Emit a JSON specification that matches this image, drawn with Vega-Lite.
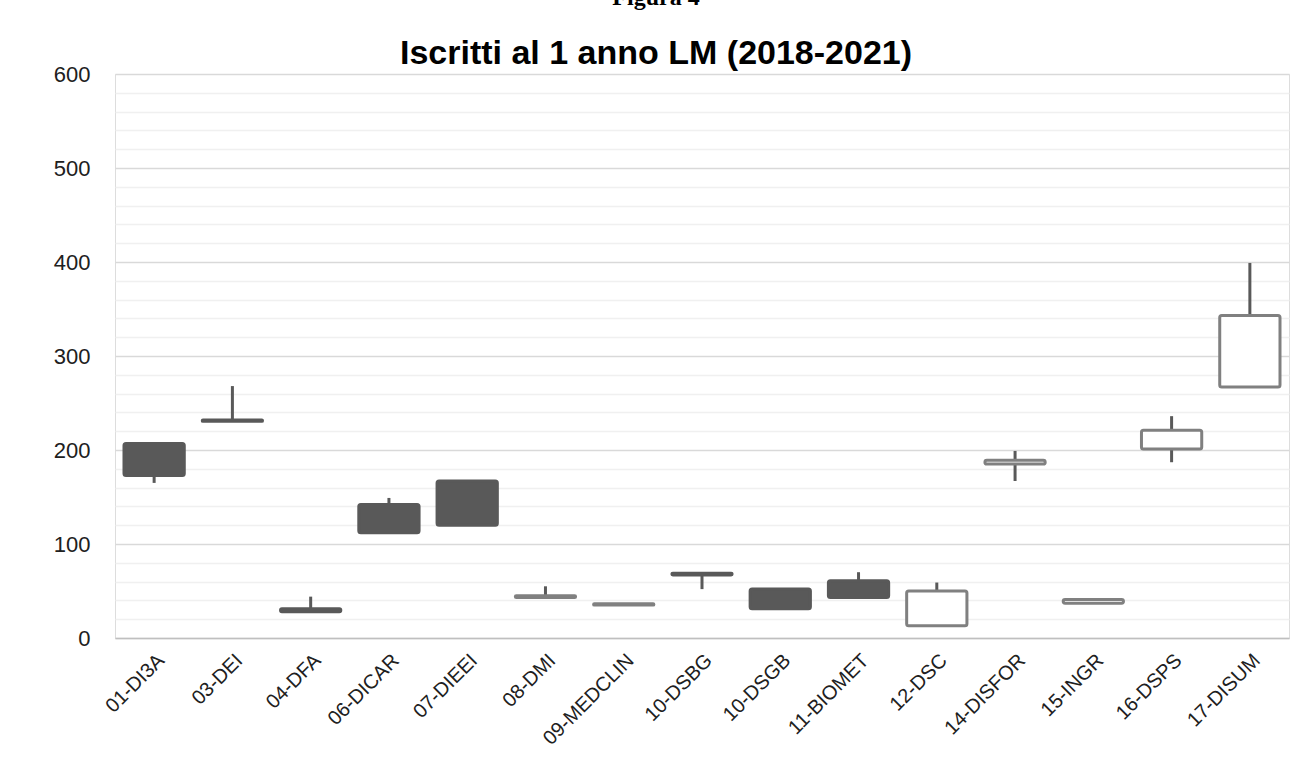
{
  "$schema": "https://vega.github.io/schema/vega-lite/v6.json",
  "width": 1174,
  "height": 564,
  "autosize": "none",
  "padding": {"left": 115, "top": 74, "right": 3, "bottom": 146},
  "background": "white",
  "title": {
    "text": "Figura 4",
    "subtitle": "Iscritti al 1 anno LM (2018-2021)",
    "font": "Liberation Serif",
    "fontSize": 24,
    "fontWeight": "bold",
    "color": "black",
    "subtitleFont": "Liberation Sans",
    "subtitleFontSize": 34,
    "subtitleFontWeight": "bold",
    "subtitleColor": "black",
    "subtitlePadding": 27,
    "anchor": "middle",
    "dx": -46,
    "offset": -8
  },
  "data": {
    "values": [
      {"dip": "01-DI3A", "open": 207, "close": 173, "high": 207, "low": 165},
      {"dip": "03-DEI", "open": 232, "close": 230.5, "high": 268, "low": 230.5},
      {"dip": "04-DFA", "open": 31, "close": 28, "high": 44, "low": 28},
      {"dip": "06-DICAR", "open": 142, "close": 112, "high": 149, "low": 112},
      {"dip": "07-DIEEI", "open": 167, "close": 120, "high": 167, "low": 120},
      {"dip": "08-DMI", "open": 43, "close": 45, "high": 55, "low": 43},
      {"dip": "09-MEDCLIN", "open": 35, "close": 36.5, "high": 36.5, "low": 35},
      {"dip": "10-DSBG", "open": 69, "close": 67, "high": 69, "low": 52},
      {"dip": "10-DSGB", "open": 52, "close": 31, "high": 52, "low": 31},
      {"dip": "11-BIOMET", "open": 61, "close": 43, "high": 70, "low": 43},
      {"dip": "12-DSC", "open": 13, "close": 50, "high": 59, "low": 13},
      {"dip": "14-DISFOR", "open": 185, "close": 189, "high": 199, "low": 167},
      {"dip": "15-INGR", "open": 37, "close": 41, "high": 41, "low": 37},
      {"dip": "16-DSPS", "open": 201, "close": 221, "high": 236, "low": 187},
      {"dip": "17-DISUM", "open": 267, "close": 343, "high": 399, "low": 267}
    ]
  },
  "encoding": {
    "x": {
      "field": "dip",
      "type": "nominal",
      "sort": null,
      "scale": {"paddingInner": 0, "paddingOuter": 0},
      "axis": {
        "title": null,
        "labelAngle": -45,
        "labelFont": "Liberation Sans",
        "labelFontSize": 20,
        "labelColor": "#202020",
        "labelPadding": 12,
        "labelOverlap": false,
        "ticks": false,
        "grid": false,
        "domainColor": "#bfbfbf",
        "domainWidth": 1.5
      }
    }
  },
  "layer": [
    {
      "mark": {"type": "rule", "color": "#595959", "strokeWidth": 3},
      "encoding": {
        "y": {
          "field": "low",
          "type": "quantitative",
          "scale": {"domain": [0, 600], "nice": false},
          "axis": {
            "title": null,
            "values": [0, 20, 40, 60, 80, 100, 120, 140, 160, 180, 200, 220, 240, 260, 280, 300, 320, 340, 360, 380, 400, 420, 440, 460, 480, 500, 520, 540, 560, 580, 600],
            "tickCount": 100,
            "labelExpr": "datum.value % 100 === 0 ? datum.label : ''",
            "labelOverlap": false,
            "gridColor": {"condition": {"test": "datum.value % 100 === 0", "value": "#d9d9d9"}, "value": "#f0f0f0"},
            "gridWidth": 1.5,
            "ticks": false,
            "domain": false,
            "labelFont": "Liberation Sans",
            "labelFontSize": 22,
            "labelColor": "#202020",
            "labelPadding": 25
          }
        },
        "y2": {"field": "high"}
      }
    },
    {
      "mark": {"type": "bar", "strokeWidth": 3, "cornerRadius": 2, "width": {"band": 0.77}},
      "encoding": {
        "y": {"field": "open", "type": "quantitative"},
        "y2": {"field": "close"},
        "fill": {"condition": {"test": "datum.close > datum.open", "value": "white"}, "value": "#595959"},
        "stroke": {"condition": {"test": "datum.close > datum.open", "value": "#808080"}, "value": "#595959"}
      }
    }
  ]
}
